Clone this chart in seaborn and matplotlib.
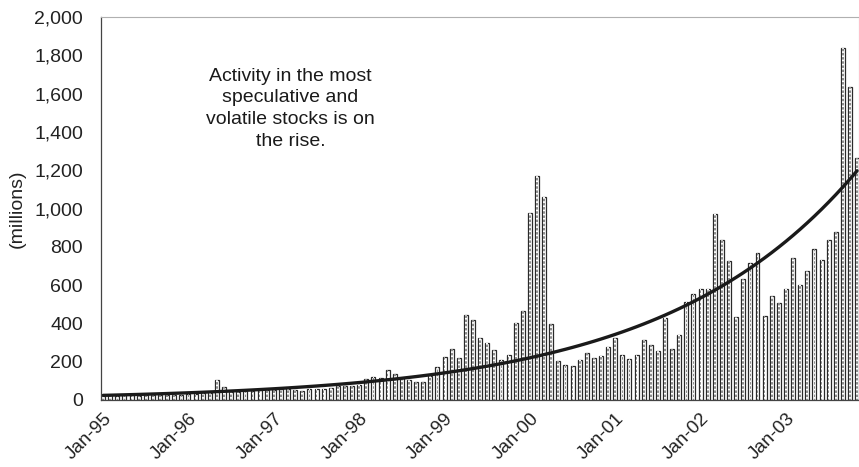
import numpy as np
import pandas as pd
import matplotlib
matplotlib.use("Agg")
import matplotlib.pyplot as plt
import seaborn as sns

# ---- data (monthly, Jan-95 .. Nov-03), millions ----
vol_1995 = [22, 24, 22, 25, 24, 23, 26, 27, 25, 24, 27, 28]
vol_1996 = [30, 32, 34, 38, 105, 70, 44, 42, 45, 48, 50, 50]
vol_1997 = [52, 55, 56, 50, 47, 55, 58, 60, 62, 72, 75, 73]
vol_1998 = [78, 111, 122, 116, 155, 137, 113, 103, 96, 96, 127, 170]
vol_1999 = [222, 268, 217, 443, 420, 322, 299, 259, 210, 235, 403, 464]
vol_2000 = [978, 1170, 1058, 395, 202, 183, 176, 207, 243, 219, 228, 277]
vol_2001 = [326, 233, 212, 233, 313, 287, 257, 428, 266, 341, 510, 553]
vol_2002 = [581, 581, 970, 837, 728, 436, 631, 718, 768, 439, 543, 509]
vol_2003 = [582, 740, 599, 676, 787, 733, 835, 879, 1838, 1636, 1264]

values = vol_1995 + vol_1996 + vol_1997 + vol_1998 + vol_1999 + vol_2000 + vol_2001 + vol_2002 + vol_2003
months = pd.date_range("1995-01-01", periods=len(values), freq="MS").strftime("%b-%y").tolist()
tick_labels = ["Jan-95", "Jan-96", "Jan-97", "Jan-98", "Jan-99", "Jan-00", "Jan-01", "Jan-02", "Jan-03"]
y_ticks = [0, 200, 400, 600, 800, 1000, 1200, 1400, 1600, 1800, 2000]
note = "Activity in the most\nspeculative and\nvolatile stocks is on\nthe rise."

df = pd.DataFrame({"month": months, "volume": values})

# exponential trend fitted to the data (log-linear least squares)
t = np.arange(len(values))
b, ln_a = np.polyfit(t, np.log(values), 1)
trend = np.exp(ln_a + b * t)

sns.set_style("white")
plt.rcParams["font.family"] = ["Liberation Sans", "DejaVu Sans"]
plt.rcParams["hatch.linewidth"] = 1.2

fig = plt.figure(figsize=(8.59, 4.67), dpi=100)
ax = fig.add_axes([101 / 859, 1 - 400 / 467, 757.5 / 859, 383 / 467])

# outer bar: white with dark outline
sns.barplot(data=df, x="month", y="volume", ax=ax, color="white", width=0.56,
            edgecolor="#2a2a2a", linewidth=0.9, saturation=1)
# inner dashed core
sns.barplot(data=df, x="month", y="volume", ax=ax, color="#8c8c8c", width=0.24,
            edgecolor="white", linewidth=0, hatch="----", saturation=1)

sns.lineplot(x=t, y=trend, ax=ax, color="#1a1a1a", linewidth=2.4)

ax.set_xlim(-0.3, 106.2)
ax.set_ylim(0, 2000)
ax.set_yticks(y_ticks)
ax.set_yticklabels([f"{v:,}" for v in y_ticks])
tick_pos = [months.index(lbl) for lbl in tick_labels]
ax.set_xticks(tick_pos)
ax.set_xticklabels(tick_labels, rotation=45, ha="right", rotation_mode="anchor")
ax.set_xlabel("")
ax.set_ylabel("(millions)", fontsize=14, color="#222222", labelpad=6)

ax.tick_params(axis="both", which="both", direction="out", length=5, width=0.9,
               color="#444444", labelcolor="#222222", labelsize=14)
ax.tick_params(axis="y", pad=8)
ax.tick_params(axis="x", pad=2, labelsize=13.5)

for side in ["left", "bottom"]:
    ax.spines[side].set_color("#444444")
    ax.spines[side].set_linewidth(0.9)
for side in ["top", "right"]:
    ax.spines[side].set_color("#b0b0b0")
    ax.spines[side].set_linewidth(0.8)

ax.text(0.25, 0.868, note, transform=ax.transAxes, ha="center", va="top",
        fontsize=14, color="#1a1a1a", linespacing=1.38)

fig.savefig("out.png", dpi=100)
